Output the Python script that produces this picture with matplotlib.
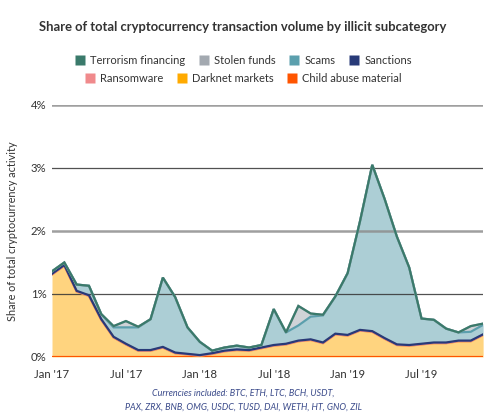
import matplotlib

matplotlib.use("Agg")
import matplotlib.pyplot as plt
import numpy as np
from matplotlib.lines import Line2D

plt.rcParams["font.family"] = ["Lato", "DejaVu Sans"]

# monthly points, Jan 2017 .. Dec 2019 (values in % of total volume)
months = list(range(36))
tick_positions = [0, 6, 12, 18, 24, 30]
tick_labels = ["Jan '17", "Jul '17", "Jan '18", "Jul '18", "Jan '19", "Jul '19"]

child_abuse = [0.0] * 36
darknet = [1.31, 1.45, 1.04, 0.97, 0.59, 0.31, 0.20, 0.10, 0.10, 0.15, 0.06, 0.04,
           0.02, 0.05, 0.09, 0.11, 0.10, 0.14, 0.18, 0.20, 0.25, 0.27, 0.22, 0.36,
           0.34, 0.42, 0.40, 0.29, 0.19, 0.18, 0.20, 0.22, 0.22, 0.25, 0.25, 0.35]
ransomware = [0.0] * 36
sanctions = [0.01] * 36
scams = [0.04, 0.04, 0.10, 0.15, 0.08, 0.15, 0.26, 0.36, 0.49, 1.10, 0.88, 0.42,
         0.21, 0.04, 0.05, 0.06, 0.04, 0.04, 0.57, 0.18, 0.24, 0.36, 0.43, 0.59,
         0.98, 1.72, 2.64, 2.21, 1.71, 1.23, 0.40, 0.36, 0.22, 0.13, 0.14, 0.15]
stolen = [0, 0, 0, 0, 0, 0.02, 0.10, 0.01, 0, 0, 0, 0,
          0, 0, 0, 0, 0, 0, 0, 0, 0.31, 0.05, 0.01, 0,
          0, 0, 0, 0, 0, 0, 0, 0, 0, 0, 0.09, 0.02]
terrorism = [0.0] * 36

series = [
    ("Child abuse material", child_abuse, "#FF5500"),
    ("Darknet markets", darknet, "#FFAA00"),
    ("Ransomware", ransomware, "#F08A8C"),
    ("Sanctions", sanctions, "#283A78"),
    ("Scams", scams, "#5B9FAD"),
    ("Stolen funds", stolen, "#A3A9B0"),
    ("Terrorism financing", terrorism, "#3A7A6B"),
]

fig = plt.figure(figsize=(5.01, 4.15), dpi=100)
ax = fig.add_axes([0.1038, 0.1398, 0.8605, 0.6072])

x = np.array(months)
stack = np.cumsum([np.array(vals, dtype=float) for _, vals, _ in series], axis=0)
lower = np.zeros(len(x))
for (name, vals, color), upper in zip(series, stack):
    ax.fill_between(x, lower, upper, color=color, alpha=0.5, linewidth=0, zorder=1)
    lower = upper
for (name, vals, color), upper in zip(series, stack):
    ax.plot(x, upper, color=color, linewidth=1.6, zorder=4, solid_joinstyle="miter")

# grid lines sit over the fills
for level in [1, 2, 3, 4]:
    if level % 2 == 0:
        ax.axhline(level, color="#8E8E8E", linewidth=1.8, alpha=0.85, zorder=3)
    else:
        ax.axhline(level, color="#333333", linewidth=0.9, alpha=0.85, zorder=3)

ax.set_xlim(0, 35)
ax.set_ylim(0, 4)
ax.set_xticks(tick_positions)
ax.set_xticklabels(tick_labels, fontsize=8.2, color="#333333")
ax.set_yticks([0, 1, 2, 3, 4])
ax.set_yticklabels(["0%", "1%", "2%", "3%", "4%"], fontsize=8.2, color="#333333")
ax.tick_params(length=0, pad=4)
ax.tick_params(axis="x", pad=9)
for spine in ax.spines.values():
    spine.set_visible(False)
ax.set_ylabel("Share of total cryptocurrency activity", fontsize=7.8, color="#333333", labelpad=9)

fig.text(0.485, 0.935, "Share of total cryptocurrency transaction volume by illicit subcategory",
         ha="center", va="center", fontsize=9.4, fontweight="bold", color="#333333")

colors = {name: color for name, _, color in series}
rows = [
    (["Terrorism financing", "Stolen funds", "Scams", "Sanctions"], 0.855),
    (["Ransomware", "Darknet markets", "Child abuse material"], 0.81),
]
for names, ypos in rows:
    handles = [Line2D([], [], marker="s", linestyle="none", markersize=7,
                      markerfacecolor=colors[n], markeredgecolor="none") for n in names]
    fig.legend(handles, names, loc="center", bbox_to_anchor=(0.485, ypos), ncol=len(names),
               frameon=False, fontsize=8.0, handletextpad=0.4, columnspacing=1.2,
               handlelength=1.0, labelcolor="#333333")

fig.text(0.485, 0.052, "Currencies included: BTC, ETH, LTC, BCH, USDT,", ha="center", va="center",
         fontsize=6.5, style="italic", color="#3A4A8A")
fig.text(0.485, 0.019, "PAX, ZRX, BNB, OMG, USDC, TUSD, DAI, WETH, HT, GNO, ZIL", ha="center",
         va="center", fontsize=6.5, style="italic", color="#3A4A8A")

fig.savefig("out.png", dpi=100)
